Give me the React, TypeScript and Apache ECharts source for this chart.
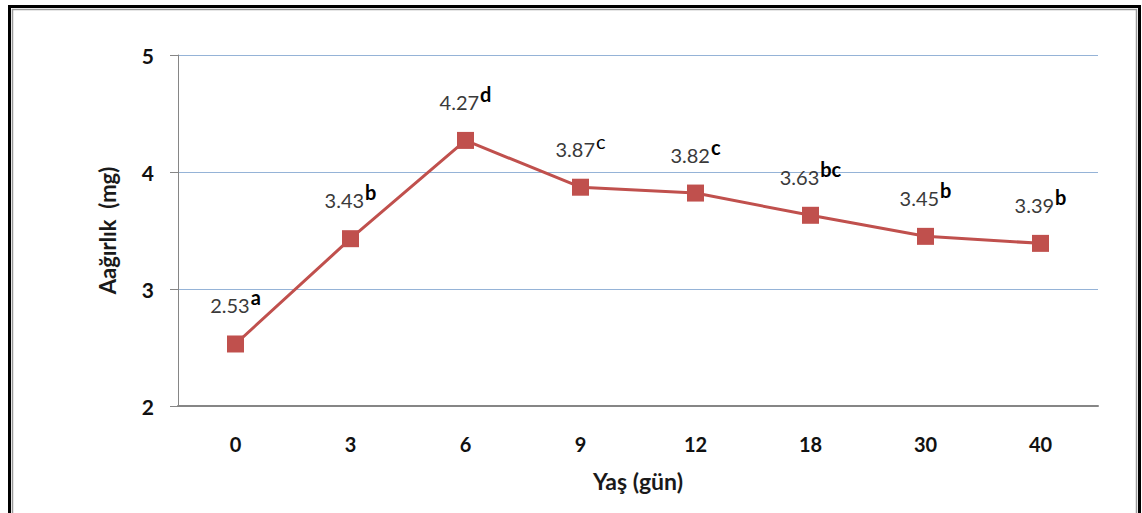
import React, { useEffect, useRef } from "react";
import * as echarts from "echarts";

// Age in days (category axis)
const ages = ["0", "3", "6", "9", "12", "18", "30", "40"];
// Mean weight (mg) at each age
const weights = [2.53, 3.43, 4.27, 3.87, 3.82, 3.63, 3.45, 3.39];
// Significance group letters shown as superscripts
const groups = ["a", "b", "d", "c", "c", "bc", "b", "b"];
// Value-axis ticks
const yMin = 2;
const yMax = 5;
const yStep = 1;

const FONT = "Lato, 'Open Sans', sans-serif";
// superscript drawn in regular weight for this point
const lightSup = new Set([3]);

export default function App() {
  const ref = useRef<HTMLDivElement>(null);

  useEffect(() => {
    if (!ref.current) return;
    const chart = echarts.init(ref.current, null, { renderer: "svg" });
    chart.setOption({
      animation: false,
      backgroundColor: "#ffffff",
      textStyle: { fontFamily: FONT },
      graphic: [
        {
          type: "rect",
          shape: { x: 9.5, y: 6.5, width: 1130, height: 530 },
          style: { fill: "none", stroke: "#000000", lineWidth: 3 },
          silent: true,
        },
        {
          type: "rect",
          shape: { x: 12.5, y: 9.5, width: 1124, height: 520 },
          style: { fill: "none", stroke: "#9a9a9a", lineWidth: 1.5 },
          silent: true,
        },
      ],
      grid: { left: 178, right: 44, top: 55, bottom: 107, containLabel: false },
      xAxis: {
        type: "category",
        data: ages,
        boundaryGap: true,
        name: "Yaş (gün)",
        nameLocation: "middle",
        nameGap: 63,
        nameTextStyle: { fontFamily: FONT, fontWeight: "bold", fontSize: 23, color: "#1a1a1a" },
        axisLine: { show: true, lineStyle: { color: "#868686", width: 2 } },
        axisTick: { show: false },
        axisLabel: { margin: 28, fontFamily: FONT, fontWeight: "bold", fontSize: 20, color: "#111111" },
        splitLine: { show: false },
      },
      yAxis: {
        type: "value",
        min: yMin,
        max: yMax,
        interval: yStep,
        name: "Aağırlık  (mg)",
        nameLocation: "middle",
        nameGap: 60,
        nameRotate: 90,
        nameTextStyle: { fontFamily: FONT, fontWeight: "bold", fontSize: 22, color: "#1a1a1a" },
        axisLine: { show: true, lineStyle: { color: "#868686", width: 1 } },
        axisTick: { show: true, inside: false, length: 8, lineStyle: { color: "#868686", width: 1 } },
        axisLabel: { margin: 24, fontFamily: FONT, fontWeight: "bold", fontSize: 21, color: "#111111" },
        splitLine: { show: true, lineStyle: { color: "#95B3D7", width: 1 } },
      },
      series: [
        {
          type: "line",
          data: weights,
          symbol: "rect",
          symbolSize: 17,
          lineStyle: { color: "#C0504D", width: 3 },
          itemStyle: { color: "#C0504D" },
          label: {
            show: true,
            position: "top",
            distance: 20,
            formatter: (p: any) =>
              `{v|${weights[p.dataIndex].toFixed(2)}}{${lightSup.has(p.dataIndex) ? "n" : "s"}|${groups[p.dataIndex]}}`,
            rich: {
              v: {
                fontFamily: FONT,
                fontSize: 20,
                color: "#3a3a3a",
                lineHeight: 28,
                verticalAlign: "bottom",
              },
              s: {
                fontFamily: FONT,
                fontSize: 20,
                fontWeight: "bold",
                color: "#000000",
                lineHeight: 28,
                padding: [0, 0, 0, 1],
                verticalAlign: "top",
              },
              n: {
                fontFamily: FONT,
                fontSize: 20,
                color: "#000000",
                lineHeight: 28,
                padding: [0, 0, 0, 1],
                verticalAlign: "top",
              },
            },
          },
        },
      ],
    });
    return () => chart.dispose();
  }, []);

  return (
    <div
      ref={ref}
      style={{ position: "absolute", left: 0, top: 0, width: 1142, height: 513 }}
    />
  );
}
